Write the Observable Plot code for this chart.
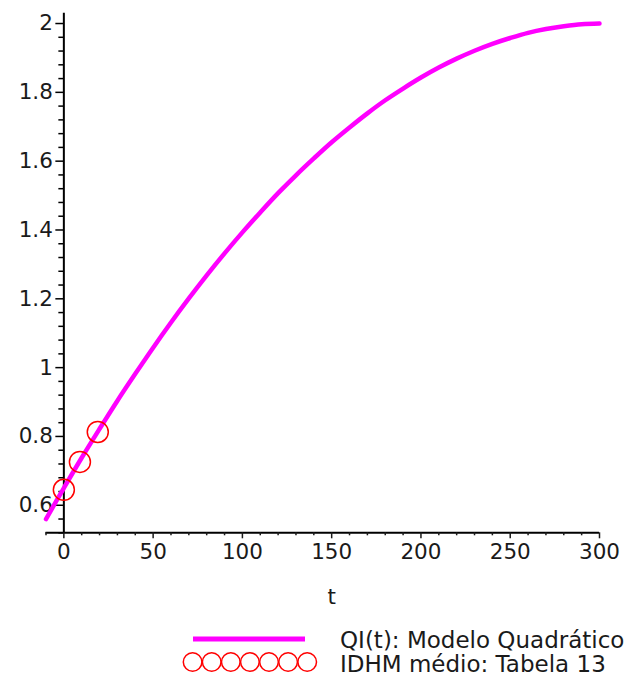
<!DOCTYPE html>
<html>
<head>
<meta charset="utf-8">
<script src="https://cdn.jsdelivr.net/npm/d3@7"></script>
<script src="https://cdn.jsdelivr.net/npm/@observablehq/plot@0.6"></script>
<style>
  html, body { margin: 0; padding: 0; background: #fff; }
  #wrap { position: relative; width: 629px; height: 677px; font-family: "DejaVu Sans", sans-serif; }
  #legend { position: absolute; left: 0; top: 620px; width: 629px; height: 57px; }
</style>
</head>
<body>
<div id="wrap">
  <div id="chart"></div>
  <svg id="legend" width="629" height="57"></svg>
</div>
<script>
// ---- data ----
const tVals = [-10, 0, 10, 20, 30, 40, 50, 60, 70, 80, 90, 100, 110, 120, 130, 140, 150,
  160, 170, 180, 190, 200, 210, 220, 230, 240, 250, 260, 270, 280, 290, 300];
const qiVals = [0.560, 0.650, 0.738, 0.822, 0.904, 0.982, 1.058, 1.131, 1.201, 1.268, 1.332,
  1.393, 1.451, 1.507, 1.559, 1.608, 1.655, 1.698, 1.739, 1.777, 1.811, 1.843, 1.872, 1.898,
  1.921, 1.941, 1.958, 1.973, 1.984, 1.992, 1.998, 2.000];
const idhmT = [0, 9, 19];
const idhmV = [0.645, 0.726, 0.813];

const xMajor = [0, 50, 100, 150, 200, 250, 300];
const xMinor = [-10, 10, 20, 30, 40, 60, 70, 80, 90, 110, 120, 130, 140, 160, 170, 180, 190,
  210, 220, 230, 240, 260, 270, 280, 290];
const yMajor = [0.6, 0.8, 1, 1.2, 1.4, 1.6, 1.8, 2];
const yMinor = [0.52, 0.56, 0.64, 0.68, 0.72, 0.76, 0.84, 0.88, 0.92, 0.96, 1.04, 1.08, 1.12, 1.16,
  1.24, 1.28, 1.32, 1.36, 1.44, 1.48, 1.52, 1.56, 1.64, 1.68, 1.72, 1.76, 1.84, 1.88, 1.92, 1.96];
const seriesNames = ["QI(t): Modelo Quadrático", "IDHM médio: Tabela 13"];
const xLabel = "t";

// ---- layout ----
const W = 629, H = 620;
const mL = 45.5, mR = 30, mT = 12.7, mB = H - 532.3;
const xDom = [-10, 300], yDom = [0.52, 2.03];
const pxPerT = (W - mL - mR) / (xDom[1] - xDom[0]);
const majorLen = 8, minorLen = 5;
const FONT = "DejaVu Sans, sans-serif";
const FS = 21.5;

const curve = tVals.map((t, i) => ({t, v: qiVals[i]}));
const pts = idhmT.map((t, i) => ({t, v: idhmV[i]}));

const plot = Plot.plot({
  width: W, height: H,
  marginLeft: mL, marginRight: mR, marginTop: mT, marginBottom: mB,
  x: {domain: xDom, axis: null},
  y: {domain: yDom, axis: null},
  style: {fontFamily: FONT, fontSize: FS + "px", color: "#1a1a1a", background: "#fff"},
  marks: [
    // axis lines
    Plot.ruleY([yDom[0]], {x1: xDom[0], x2: xDom[1], stroke: "#000", strokeWidth: 2}),
    Plot.ruleX([0], {y1: yDom[0], y2: yDom[1], stroke: "#000", strokeWidth: 2}),
    // x ticks
    Plot.axisX({ticks: xMajor, tickSize: 6, tickPadding: 5, label: null, tickFormat: d => String(d), strokeWidth: 1.5, fontSize: FS}),
    Plot.axisX({ticks: xMinor, tickSize: 3, label: null, tickFormat: () => "", strokeWidth: 1.5}),
    // y ticks at x = 0
    Plot.ruleY(yMajor, {y: d => d, x1: -majorLen / pxPerT, x2: 0, stroke: "#000", strokeWidth: 1.5}),
    Plot.ruleY(yMinor, {y: d => d, x1: -minorLen / pxPerT, x2: 0, stroke: "#000", strokeWidth: 1.5}),
    Plot.text(yMajor, {x: 0, y: d => d, text: d => String(d), textAnchor: "end", dx: -11, fontSize: FS, fill: "#1a1a1a"}),
    // x label
    Plot.text([xLabel], {x: (xMajor[0] + xMajor[xMajor.length - 1]) / 2, frameAnchor: "bottom", dy: 71, text: d => d, fontSize: FS, fill: "#1a1a1a"}),
    // data
    Plot.line(curve, {x: "t", y: "v", stroke: "#ff00ff", strokeWidth: 4.5, curve: "catmull-rom"}),
    Plot.dot(pts, {x: "t", y: "v", r: 10.5, stroke: "#ff0000", strokeWidth: 1.5, fill: "none"})
  ]
});
document.getElementById("chart").appendChild(plot);

// ---- legend ----
const lg = d3.select("#legend");
lg.append("line").attr("x1", 193).attr("x2", 305).attr("y1", 19).attr("y2", 19)
  .attr("stroke", "#ff00ff").attr("stroke-width", 5);
d3.range(7).forEach(k => {
  lg.append("circle").attr("cx", 192.6 + k * 19.1).attr("cy", 42).attr("r", 9.3)
    .attr("fill", "none").attr("stroke", "#ff0000").attr("stroke-width", 1.5);
});
lg.selectAll("text.lab").data(seriesNames).join("text").attr("class", "lab")
  .attr("x", 340).attr("y", (d, i) => 28 + i * 23.5)
  .attr("font-family", FONT).attr("font-size", 23).attr("fill", "#1a1a1a")
  .text(d => d);
</script>
</body>
</html>
